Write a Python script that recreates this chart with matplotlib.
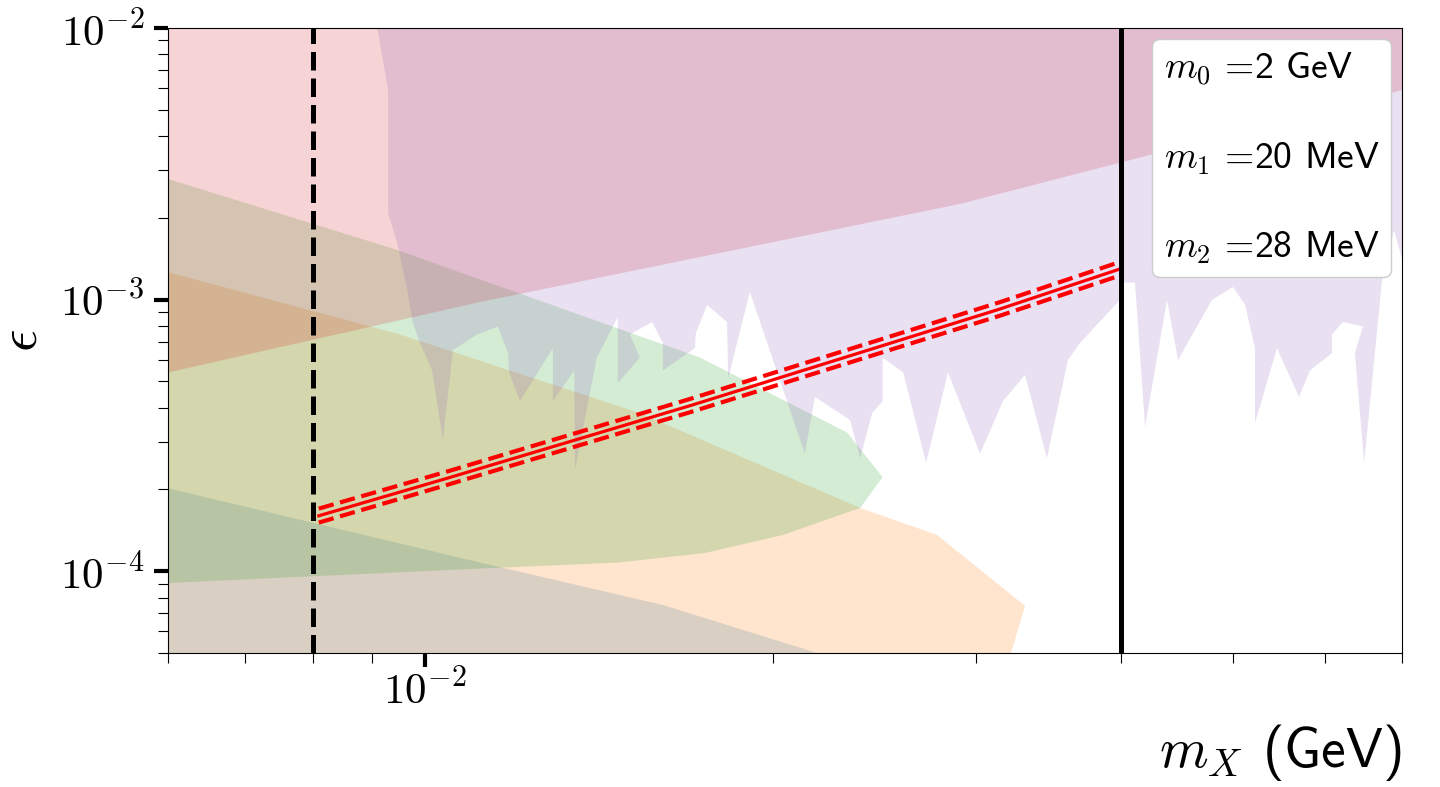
import numpy as np
import matplotlib
matplotlib.use("Agg")
import matplotlib.pyplot as plt
from matplotlib.ticker import LogLocator, NullFormatter, FuncFormatter

plt.rcParams['mathtext.fontset'] = 'cm'
plt.rcParams['font.family'] = ['cmss10', 'DejaVu Sans']

# masses (GeV)
m0 = 2.0
m1 = 0.020
m2 = 0.028
x_dashed = m2 - m1      # 0.008
x_solid = 2 * m1        # 0.04

# excluded regions, x in GeV, y = epsilon
orange_x = [0.006, 0.00952, 0.01535, 0.0238, 0.02774, 0.03305, 0.03214, 0.006]
orange_y = [1.263e-3, 7.44e-4, 3.82e-4, 1.71e-4, 1.36e-4, 7.45e-5, 5e-5, 5e-5]

blue_x = [0.006, 0.01117, 0.01607, 0.02184, 0.006]
blue_y = [2.02e-4, 1.076e-4, 7.51e-5, 5e-5, 5e-5]

green_x = [0.006, 0.00947, 0.0173, 0.02319, 0.02489, 0.0238, 0.02041,
           0.01748, 0.01469, 0.01117, 0.006]
green_y = [2.78e-3, 1.523e-3, 6.12e-4, 3.24e-4, 2.22e-4, 1.71e-4, 1.36e-4,
           1.167e-4, 1.076e-4, 1.023e-4, 9.05e-5]

pink_x = [0.006, 0.006, 0.01117, 0.02903, 0.07, 0.07]
pink_y = [1e-2, 5.39e-4, 9.80e-4, 2.25e-3, 5.91e-3, 1e-2]

purple_x = [0.00910, 0.00930, 0.00930, 0.00947, 0.00966, 0.00977, 0.00991, 0.01015,
            0.01037, 0.01058, 0.01110, 0.01157, 0.01181, 0.01183, 0.01209, 0.01291,
            0.01291, 0.01347, 0.01349, 0.01409, 0.01469, 0.01469, 0.01535, 0.01505,
            0.01573, 0.01607, 0.01607, 0.01713, 0.01716, 0.01755, 0.01826, 0.01830,
            0.01911, 0.02132, 0.02175, 0.02333, 0.02380, 0.02438, 0.02489, 0.02489,
            0.02593, 0.02714, 0.02835, 0.03022, 0.03163, 0.03305, 0.03452, 0.0360,
            0.03687, 0.03977, 0.04017, 0.04114, 0.04197, 0.04385, 0.04482, 0.04795,
            0.0500, 0.05122, 0.05224, 0.05224, 0.05458, 0.05702, 0.05828, 0.06089,
            0.06089, 0.06223, 0.06477, 0.06373, 0.06492, 0.06728, 0.0689, 0.07, 0.07]
purple_y = [1e-2, 5.91e-3, 2.08e-3, 1.616e-3, 1.085e-3, 8.20e-4, 6.92e-4, 5.48e-4,
            3.04e-4, 6.52e-4, 7.44e-4, 7.96e-4, 6.36e-4, 5.39e-4, 4.23e-4, 6.63e-4,
            4.23e-4, 5.48e-4, 2.36e-4, 6.12e-4, 8.63e-4, 4.93e-4, 6.12e-4, 7.44e-4,
            8.27e-4, 6.92e-4, 5.48e-4, 6.63e-4, 7.53e-4, 9.55e-4, 8.27e-4, 5.14e-4,
            1.067e-3, 2.71e-4, 4.38e-4, 3.60e-4, 2.61e-4, 3.82e-4, 4.23e-4, 6.12e-4,
            5.39e-4, 2.51e-4, 5.39e-4, 2.71e-4, 4.23e-4, 5.28e-4, 2.61e-4, 5.99e-4,
            6.92e-4, 9.80e-4, 1.156e-3, 1.156e-3, 3.40e-4, 9.97e-4, 5.99e-4, 9.97e-4,
            1.113e-3, 9.55e-4, 6.63e-4, 3.51e-4, 6.63e-4, 4.38e-4, 5.48e-4, 6.36e-4,
            7.44e-4, 8.27e-4, 7.96e-4, 6.36e-4, 2.51e-4, 1.181e-3, 1.80e-3, 1.411e-3, 1e-2]

# signal band
line_x = [0.0081, 0.0105, 0.017, 0.0314, 0.04]
line_mid = [1.60e-4, 2.21e-4, 4.08e-4, 9.22e-4, 1.30e-3]
line_up = [1.70e-4, 2.34e-4, 4.32e-4, 9.77e-4, 1.38e-3]
line_lo = [1.51e-4, 2.09e-4, 3.86e-4, 8.71e-4, 1.23e-3]

fig = plt.figure(figsize=(14.4, 7.87), dpi=100)
ax = fig.add_axes([0.1167, 0.1703, 0.8569, 0.7941])
ax.set_xscale('log')
ax.set_yscale('log')

ax.fill(orange_x, orange_y, color='tab:orange', alpha=0.2, lw=0)
ax.fill(blue_x, blue_y, color='#467798', alpha=0.2, lw=0)
ax.fill(green_x, green_y, color='tab:green', alpha=0.2, lw=0)
ax.fill(pink_x, pink_y, color='tab:red', alpha=0.2, lw=0)
ax.fill(purple_x, purple_y, color='tab:purple', alpha=0.2, lw=0)

ax.plot(line_x, line_mid, color='red', lw=2.3)
ax.plot(line_x, line_up, color='red', lw=3.0, ls='--')
ax.plot(line_x, line_lo, color='red', lw=3.0, ls='--')

ax.axvline(x_dashed, color='black', lw=3.6, ls='--')
ax.axvline(x_solid, color='black', lw=3.6)

ax.set_xlim(0.006, 0.07)
ax.set_ylim(5e-5, 1e-2)

sci = FuncFormatter(lambda v, pos: r'$10^{%d}$' % int(np.round(np.log10(v))))
ax.xaxis.set_major_formatter(sci)
ax.yaxis.set_major_formatter(sci)
ax.xaxis.set_minor_locator(LogLocator(base=10, subs=range(2, 10)))
ax.xaxis.set_minor_formatter(NullFormatter())
ax.yaxis.set_minor_formatter(NullFormatter())
ax.tick_params(which='major', length=10, width=3, labelsize=31)
ax.tick_params(which='minor', length=7, width=0.8)
ax.tick_params(axis='x', pad=1)
ax.tick_params(axis='y', pad=7)

ax.set_xlabel(r'$m_X$ (GeV)', fontsize=40, loc='right', labelpad=8)
ax.set_ylabel(r'$\epsilon$', fontsize=40, labelpad=9)

for lab in [r'$m_0$ =' + f'{m0:g} GeV', r'$m_1$ =' + f'{m1*1000:g} MeV',
            r'$m_2$ =' + f'{m2*1000:g} MeV']:
    ax.plot([], [], ' ', label=lab)
leg = ax.legend(loc='upper right', fontsize=27, handlelength=0, handletextpad=0,
                labelspacing=1.4, borderpad=0.3, borderaxespad=0.3, framealpha=1)

fig.savefig('out.png', dpi=100)
